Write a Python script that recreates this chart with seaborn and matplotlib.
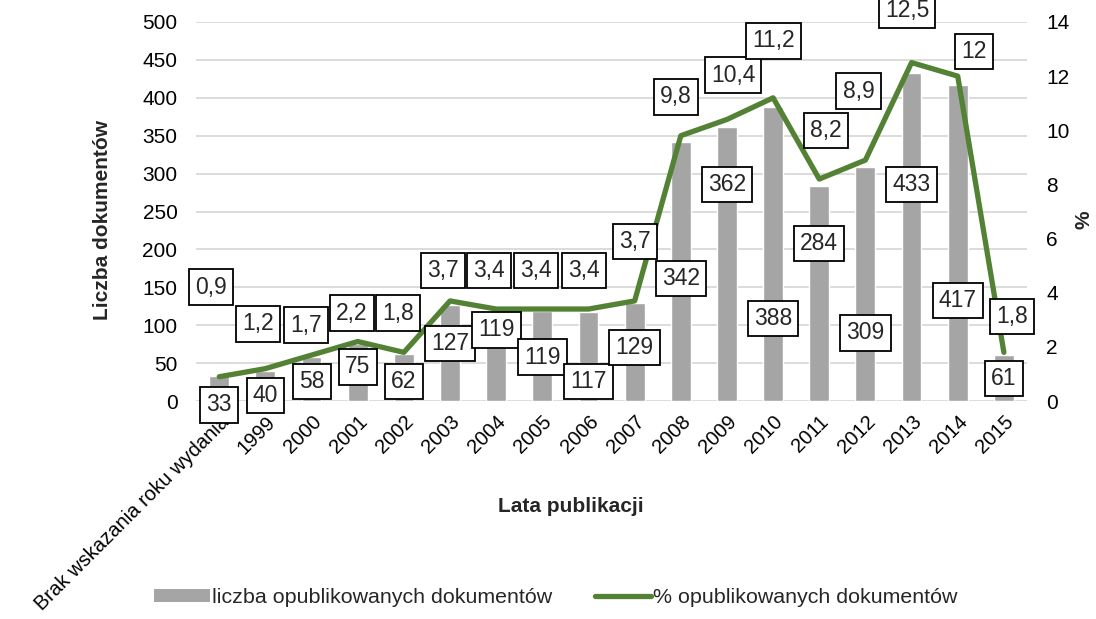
import seaborn as sns
import pandas as pd
import matplotlib.pyplot as plt
from matplotlib.patches import Patch
from matplotlib.lines import Line2D

# data
years = ["Brak wskazania roku wydania", "1999", "2000", "2001", "2002", "2003", "2004",
         "2005", "2006", "2007", "2008", "2009", "2010", "2011", "2012", "2013", "2014", "2015"]
counts = [33, 40, 58, 75, 62, 127, 119, 119, 117, 129, 342, 362, 388, 284, 309, 433, 417, 61]
percent = [0.9, 1.2, 1.7, 2.2, 1.8, 3.7, 3.4, 3.4, 3.4, 3.7, 9.8, 10.4, 11.2, 8.2, 8.9, 12.5, 12, 1.8]
pct_text = ["0,9", "1,2", "1,7", "2,2", "1,8", "3,7", "3,4", "3,4", "3,4", "3,7",
            "9,8", "10,4", "11,2", "8,2", "8,9", "12,5", "12", "1,8"]

# hand-placed label boxes (as in the original sheet)
count_lbl_x = [0, 1, 2, 3, 4, 5, 6, 7, 8, 9, 10, 11, 12, 13, 14, 15, 16, 17]
count_lbl_y = [-5, 7, 26, 45, 26, 76, 94, 58, 26, 71, 162, 286, 109, 208, 90, 286, 133, 30]
pct_lbl_x = [-0.17, -0.17, -0.13, -0.13, -0.13, -0.15, -0.15, -0.13, -0.1, 0.0,
             -0.1, 0.13, 0.0, 0.15, -0.15, -0.1, 0.35, 0.17]
pct_lbl_y = [4.21, 2.85, 2.81, 3.25, 3.25, 4.83, 4.83, 4.83, 4.83, 5.9,
             11.23, 12.04, 13.3, 10.0, 11.45, 14.42, 12.9, 3.13]

df = pd.DataFrame({"rok": years, "idx": range(len(years)), "liczba": counts, "proc": percent})

sns.set_style("white")
plt.rcParams["font.family"] = ["Liberation Sans", "DejaVu Sans"]

fig = plt.figure(figsize=(10.96, 6.19), dpi=100)
ax1 = fig.add_axes([0.179, 0.352, 0.758, 0.6125])
ax2 = ax1.twinx()

sns.barplot(data=df, x="idx", y="liczba", color="#A5A5A5", saturation=1, width=0.43, ax=ax1)
sns.lineplot(data=df, x="idx", y="proc", color="#548235", linewidth=3.8, ax=ax2)

ax1.set_xlim(-0.5, 17.5)
ax1.set_ylim(0, 500)
ax2.set_ylim(0, 14)
ax1.set_yticks(range(0, 501, 50))
ax2.set_yticks(range(0, 15, 2))
ax1.yaxis.grid(True, color="#D9D9D9", linewidth=1.3)
ax1.set_axisbelow(True)
for a in (ax1, ax2):
    for s in a.spines.values():
        s.set_visible(False)
    a.tick_params(length=0, labelsize=15, colors="black")

ax1.set_xticks(range(len(years)))
ax1.set_xticklabels(years, rotation=45, ha="right", rotation_mode="anchor")
ax1.tick_params(axis="x", pad=8, labelsize=14.5)
ax1.tick_params(axis="y", pad=13.5)
ax2.tick_params(axis="y", pad=14)

ax1.set_xlabel("Lata publikacji", fontsize=15, fontweight="bold")
ax1.xaxis.set_label_coords(0.451, -0.253)
ax1.set_ylabel("Liczba dokumentów", fontsize=15, fontweight="bold")
ax1.yaxis.set_label_coords(-0.101, 0.478)
ax2.set_ylabel("%", fontsize=15, fontweight="bold")
ax2.yaxis.set_label_coords(1.057, 0.478)

box = dict(boxstyle="square,pad=0.27", facecolor="white", edgecolor="black", linewidth=1.3)
for x, y, c in zip(count_lbl_x, count_lbl_y, counts):
    ax2.text(x, y, str(c), transform=ax1.transData, ha="center", va="center",
             fontsize=16.5, bbox=box, zorder=10)
for i, (dx, y, t) in enumerate(zip(pct_lbl_x, pct_lbl_y, pct_text)):
    ax2.text(i + dx, y, t, ha="center", va="center", fontsize=16.5, bbox=box, zorder=10,
             clip_on=False)

handles = [Patch(facecolor="#A5A5A5", edgecolor="none"),
           Line2D([0], [0], color="#548235", linewidth=3.8)]
fig.legend(handles, ["liczba opublikowanych dokumentów", "% opublikowanych dokumentów"],
           loc="lower center", bbox_to_anchor=(0.507, -0.012), ncol=2, frameon=False,
           fontsize=15.4, handlelength=2.6, handleheight=0.5, handletextpad=0.1,
           columnspacing=2.0)

fig.savefig("out.png", dpi=100)
